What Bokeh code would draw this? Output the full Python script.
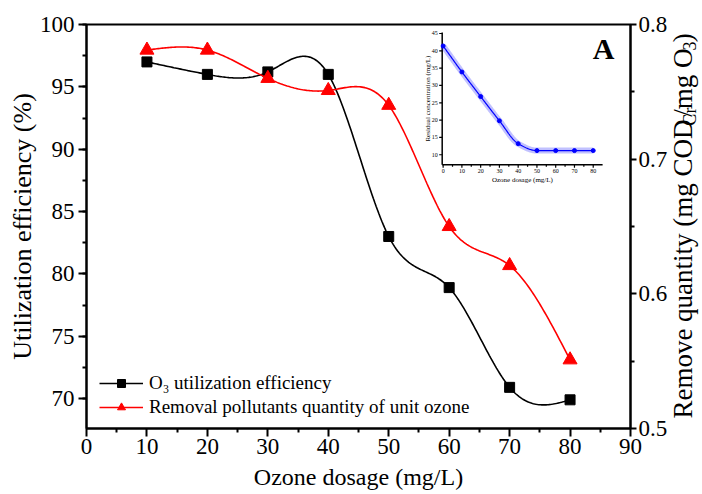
import numpy as np
from bokeh.plotting import figure
from bokeh.layouts import row
from bokeh.models import (Range1d, LinearAxis, SingleIntervalTicker, FixedTicker,
                          Legend, LegendItem, Label)
from bokeh.embed import file_html
from bokeh.resources import INLINE

# ---------------- data ----------------
dosage = [10, 20, 30, 40, 50, 60, 70, 80]
o3_utilization = [97.0, 96.0, 96.2, 96.0, 83.0, 78.9, 70.9, 69.9]
removal_quantity = [0.781, 0.781, 0.760, 0.751, 0.740, 0.650, 0.621, 0.551]

inset_dosage = [0, 10, 20, 30, 40, 50, 60, 70, 80]
residual_conc = [41.4, 33.9, 26.8, 19.8, 13.2, 11.2, 11.2, 11.2, 11.2]

x_ticks_main = [0, 10, 20, 30, 40, 50, 60, 70, 80, 90]
x_minor_main = [5, 15, 25, 35, 45, 55, 65, 75, 85]
right_ticks = [0.5, 0.6, 0.7, 0.8]
right_minor = [0.55, 0.65, 0.75]
inset_x_ticks = [0, 10, 20, 30, 40, 50, 60, 70, 80]
inset_x_minor = [5, 15, 25, 35, 45, 55, 65, 75]
inset_y_ticks = [10, 15, 20, 25, 30, 35, 40, 45]

FONT = "Liberation Serif"


# ------------- smoothing helpers (line path only) -------------
def natural_spline(x, y, n=300):
    x = np.asarray(x, float); y = np.asarray(y, float)
    N = len(x); h = np.diff(x)
    A = np.zeros((N, N)); b = np.zeros(N)
    A[0, 0] = A[-1, -1] = 1
    for i in range(1, N - 1):
        A[i, i - 1] = h[i - 1]; A[i, i] = 2 * (h[i - 1] + h[i]); A[i, i + 1] = h[i]
        b[i] = 3 * ((y[i + 1] - y[i]) / h[i] - (y[i] - y[i - 1]) / h[i - 1])
    c = np.linalg.solve(A, b)
    bc = (y[1:] - y[:-1]) / h - h * (2 * c[:-1] + c[1:]) / 3
    d = (c[1:] - c[:-1]) / (3 * h)
    xs = np.linspace(x[0], x[-1], n)
    idx = np.clip(np.searchsorted(x, xs) - 1, 0, N - 2)
    dx_ = xs - x[idx]
    ys = y[idx] + bc[idx] * dx_ + c[idx] * dx_ ** 2 + d[idx] * dx_ ** 3
    return xs, ys


def pchip(x, y, n=300):
    x = np.asarray(x, float); y = np.asarray(y, float)
    h = np.diff(x); dl = np.diff(y) / h
    m = np.zeros_like(y)
    for k in range(1, len(x) - 1):
        if dl[k - 1] * dl[k] > 0:
            w1 = 2 * h[k] + h[k - 1]; w2 = h[k] + 2 * h[k - 1]
            m[k] = (w1 + w2) / (w1 / dl[k - 1] + w2 / dl[k])
    m[0] = dl[0]; m[-1] = dl[-1]
    xs = np.linspace(x[0], x[-1], n)
    idx = np.clip(np.searchsorted(x, xs) - 1, 0, len(x) - 2)
    t = (xs - x[idx]) / h[idx]
    h00 = 2 * t ** 3 - 3 * t ** 2 + 1; h10 = t ** 3 - 2 * t ** 2 + t
    h01 = -2 * t ** 3 + 3 * t ** 2; h11 = t ** 3 - t ** 2
    ys = h00 * y[idx] + h10 * h[idx] * m[idx] + h01 * y[idx + 1] + h11 * h[idx] * m[idx + 1]
    return xs, ys


# ---------------- geometry (page pixels; page origin = figure origin) ----------------
PW, PH = 670, 492          # main figure size
RW = 30                    # right title strip
FL, FR, FT, FB = 86, 632, 24, 430
BL, BR, BT, BB = FL, PW - FR, FT, PH - FB

X0, X1 = 0, 90
Y0, Y1 = 67.6, 100

# inset frame on page and its data ranges
IXL, IXR, IYT, IYB = 443, 604, 32, 165
ix0, ix1 = -0.5, 85.0
iy0, iy1 = 7.1, 45.3
kx = (IXR - IXL) / (ix1 - ix0)
ky = (IYB - IYT) / (iy1 - iy0)

p = figure(width=PW, height=PH, x_range=Range1d(X0, X1), y_range=Range1d(Y0, Y1),
           output_backend="svg", toolbar_location=None,
           min_border_left=BL, min_border_right=BR, min_border_top=BT, min_border_bottom=BB)
p.extra_y_ranges = {"right": Range1d(0.5, 0.8),
                    "iy": Range1d(iy0 - (FB - IYB) / ky, iy1 + (IYT - FT) / ky)}
p.extra_x_ranges = {"ix": Range1d(ix0 - (IXL - FL) / kx, ix1 + (FR - IXR) / kx)}
p.xgrid.visible = False
p.ygrid.visible = False
p.outline_line_color = "black"
p.outline_line_width = 2
p.background_fill_color = "white"
p.border_fill_color = "white"


def style_axis(ax, size="23px"):
    ax.axis_line_width = 2
    ax.axis_line_color = "black"
    ax.major_tick_line_width = 2
    ax.minor_tick_line_width = 2
    ax.major_tick_out = 8
    ax.major_tick_in = 0
    ax.minor_tick_out = 4
    ax.minor_tick_in = 0
    ax.major_label_text_font = FONT
    ax.major_label_text_font_size = size
    ax.major_label_text_color = "black"
    ax.major_label_standoff = 4
    ax.axis_label_text_font = FONT
    ax.axis_label_text_font_style = "normal"
    ax.axis_label_text_color = "black"


xa = p.xaxis[0]
style_axis(xa)
xa.ticker = FixedTicker(ticks=x_ticks_main, minor_ticks=x_minor_main)
xa.major_label_standoff = 2
xa.axis_label = "Ozone dosage (mg/L)"
xa.axis_label_text_font_size = "24px"
xa.axis_label_standoff = 7

ya = p.yaxis[0]
style_axis(ya)
ya.ticker = SingleIntervalTicker(interval=5, num_minor_ticks=2)
ya.axis_label = "Utilization efficiency (%)"
ya.axis_label_text_font_size = "26px"
ya.axis_label_standoff = 0

ra = LinearAxis(y_range_name="right")
style_axis(ra)
ra.ticker = FixedTicker(ticks=right_ticks, minor_ticks=right_minor)
ra.major_tick_out = 6
ra.minor_tick_out = 4
ra.major_label_standoff = 2
p.add_layout(ra, "right")

# main curves
bx, by = natural_spline(dosage, o3_utilization)
l_black = p.line(bx, by, line_color="black", line_width=1.6)
s_black = p.scatter(dosage, o3_utilization, marker="square", size=10,
                    fill_color="black", line_color="black")

rx, ry = natural_spline(dosage, removal_quantity)
l_red = p.line(rx, ry, line_color="red", line_width=1.6, y_range_name="right")
s_red = p.scatter(dosage, removal_quantity, marker="triangle", size=14,
                  fill_color="red", line_color="red", y_range_name="right")

legend = Legend(items=[
    LegendItem(label="O\u2083 utilization efficiency", renderers=[l_black, s_black]),
    LegendItem(label="Removal pollutants quantity of unit ozone", renderers=[l_red, s_red]),
], location=(13, 10))
legend.border_line_color = None
legend.background_fill_alpha = 0
legend.label_text_font = FONT
legend.label_text_font_size = "19px"
legend.label_text_color = "black"
legend.glyph_width = 44
legend.glyph_height = 20
legend.label_height = 20
legend.label_standoff = 6
legend.spacing = 2
legend.padding = 0
legend.margin = 0
p.add_layout(legend)


def dx(px):
    return X0 + (px - FL) / (FR - FL) * (X1 - X0)


def dy(py):
    return Y1 - (py - FT) / (FB - FT) * (Y1 - Y0)


def txt(fig, x, y, s, size, align="center", baseline="middle", angle=0.0,
        style="normal", **kw):
    fig.add_layout(Label(x=x, y=y, text=s, text_font=FONT, text_font_size=f"{size}px",
                         text_font_style=style, text_align=align, text_baseline=baseline,
                         angle=angle, text_color="black", **kw))


# panel letter
txt(p, dx(605), dy(48), "A", 30, style="bold")

# ---------------- inset (own scales: ranges "ix"/"iy") ----------------
IR = dict(x_range_name="ix", y_range_name="iy")
p.segment(x0=[ix0, ix0], y0=[iy0, iy0], x1=[ix0, ix1], y1=[iy1, iy0],
          line_color="black", line_width=1.5, **IR)
p.segment(x0=[ix0] * len(inset_y_ticks), y0=inset_y_ticks,
          x1=[ix0 - 3 / kx] * len(inset_y_ticks), y1=inset_y_ticks,
          line_color="black", line_width=1.2, **IR)
for v in inset_y_ticks:
    txt(p, ix0 - 4.5 / kx, v, str(v), 6, align="right", **IR)
p.segment(x0=inset_x_ticks, y0=[iy0] * len(inset_x_ticks),
          x1=inset_x_ticks, y1=[iy0 - 3 / ky] * len(inset_x_ticks),
          line_color="black", line_width=1.2, **IR)
p.segment(x0=inset_x_minor, y0=[iy0] * len(inset_x_minor),
          x1=inset_x_minor, y1=[iy0 - 2 / ky] * len(inset_x_minor),
          line_color="black", line_width=1.2, **IR)
for v in inset_x_ticks:
    txt(p, v, iy0 - 4.5 / ky, str(v), 6, baseline="top", **IR)
txt(p, (ix0 + ix1) / 2, iy0 - 11.5 / ky, "Ozone dosage (mg/L)", 7, baseline="top", **IR)
txt(p, ix0 - 14 / kx, (iy0 + iy1) / 2, "Residual concentration (mg/L)", 7,
    angle=np.pi / 2, **IR)
ixs, iys = pchip(inset_dosage, residual_conc)
p.line(ixs, iys, line_color="#3333ff", line_width=6, line_alpha=0.3, **IR)
p.line(ixs, iys, line_color="#0000ff", line_width=1.2, **IR)
p.scatter(inset_dosage, residual_conc, marker="circle", size=4,
          fill_color="#0000ff", line_color="#0000ff", **IR)

# ---------------- right axis title (narrow strip figure, subscripts) ----------------
rf = figure(width=RW, height=PH, x_range=Range1d(0, RW), y_range=Range1d(0, PH),
            output_backend="svg", toolbar_location=None, min_border=0,
            x_axis_location=None, y_axis_location=None)
rf.xgrid.visible = False
rf.ygrid.visible = False
rf.outline_line_color = None
rf.background_fill_color = "white"
rf.border_fill_color = "white"

W = {'R': 667, 'e': 444, 'm': 778, 'o': 500, 'v': 500, ' ': 250, 'q': 500, 'u': 500,
     'a': 444, 'n': 500, 't': 278, 'i': 278, 'y': 500, '(': 333, 'g': 500, 'C': 667,
     'O': 722, 'D': 722, 'r': 333, '/': 278, ')': 333, '3': 500}


def tw(s, size):
    return sum(W[c] for c in s) / 1000.0 * size


MAIN, SUB = 27, 18
# anchored on the middle of the em box; the baseline lies ~0.35 em to the right
X_MAIN = 692 - 0.35 * MAIN - PW
X_SUB = 695.5 - 0.35 * SUB - PW
# rotated, centred labels were seen drawn ~9% of their length further along the
# reading direction; compensate so the pieces join up
DRIFT = 0.094
# (text, font size, x, extra gap after the piece)
title_parts = [("Remove quantity (mg COD", MAIN, X_MAIN, 0.5), ("Cr", SUB, X_SUB, 3.0),
               ("/mg O", MAIN, X_MAIN, 0.5), ("3", SUB, X_SUB, 1.0), (")", MAIN, X_MAIN, 0.0)]
total = sum(tw(s, sz) + g for s, sz, _, g in title_parts)
TITLE_CENTER = 215
cur = PH - (TITLE_CENTER + total / 2.0)
for s, sz, xx, gap in title_parts:
    w = tw(s, sz)
    txt(rf, xx, cur + w / 2.0 - DRIFT * w, s, sz, angle=np.pi / 2)
    cur += w + gap

layout = row(p, rf)

open("out.html", "w").write(file_html(layout, INLINE))
